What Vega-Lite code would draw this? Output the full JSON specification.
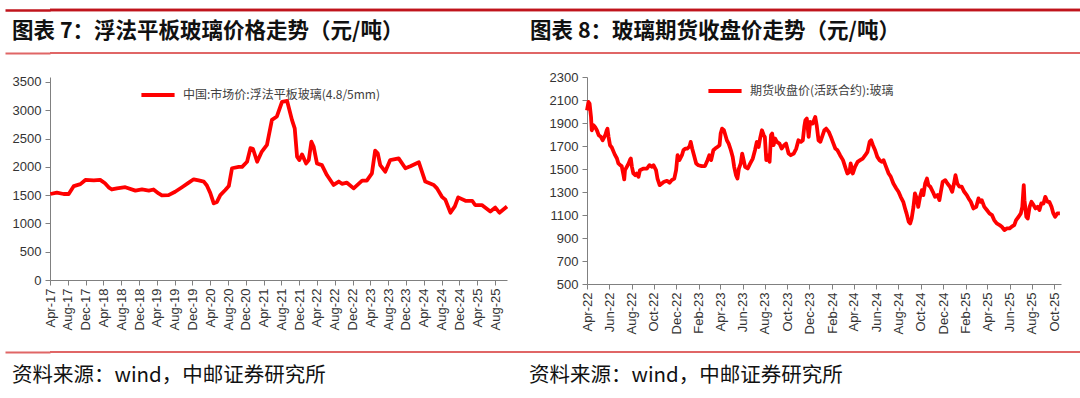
{
  "$schema": "https://vega.github.io/schema/vega-lite/v6.json",
  "background": "white",
  "padding": {"left": 3, "top": 8, "right": 0, "bottom": 0},
  "spacing": 17,
  "config": {
    "view": {"stroke": null},
    "font": "Liberation Sans",
    "axis": {
      "grid": false,
      "domainColor": "#808080",
      "tickColor": "#808080",
      "tickSize": 5,
      "labelColor": "#333333",
      "labelFont": "Liberation Sans",
      "labelFontSize": 13,
      "labelPadding": 3,
      "title": null
    },
    "legend": {
      "labelFont": "Noto Sans CJK SC",
      "labelFontSize": 12,
      "labelColor": "#404040",
      "labelLimit": 400,
      "symbolType": "stroke",
      "symbolStrokeWidth": 4,
      "symbolSize": 1100,
      "labelOffset": 6,
      "padding": 0,
      "orient": "none",
      "direction": "horizontal",
      "title": null
    }
  },
  "resolve": {"scale": {"x": "independent", "y": "independent", "color": "independent"}},
  "vconcat": [
    {
      "width": 1032,
      "height": 43,
      "data": {"values": [
        {"panel": "L", "label": "图表 7：浮法平板玻璃价格走势（元/吨）"},
        {"panel": "R", "label": "图表 8：玻璃期货收盘价走势（元/吨）"}
      ]},
      "layer": [
        {"mark": {"type": "rule", "color": "#C0141C", "strokeWidth": 2.5},
         "encoding": {"y": {"datum": 1, "type": "quantitative", "scale": {"domain": [0, 1]},
           "axis": {"values": [0, 1], "labels": false, "domain": false, "ticks": true, "tickSize": 45,
             "tickColor": {"condition": {"test": "datum.value === 1", "value": "#C0141C"}, "value": "#E06666"},
             "tickWidth": {"condition": {"test": "datum.value === 1", "value": 2.5}, "value": 2},
             "minExtent": 45, "maxExtent": 45}}}},
        {"mark": {"type": "rule", "color": "#E06666", "strokeWidth": 2},
         "encoding": {"y": {"datum": 0, "type": "quantitative"}}},
        {"transform": [{"filter": "datum.panel === 'L'"}],
         "mark": {"type": "text", "align": "left", "baseline": "middle", "dx": -38, "font": "Noto Sans CJK SC", "fontSize": 21.5, "fontWeight": "bold", "color": "#111111"},
         "encoding": {
           "x": {"field": "panel", "type": "nominal", "bandPosition": 0, "scale": {"type": "band", "domain": ["L", "R"], "paddingInner": 0, "paddingOuter": 0}, "axis": null},
           "y": {"datum": 0.5, "type": "quantitative"},
           "text": {"field": "label"}}},
        {"transform": [{"filter": "datum.panel === 'R'"}],
         "mark": {"type": "text", "align": "left", "baseline": "middle", "dx": -36, "font": "Noto Sans CJK SC", "fontSize": 21.5, "fontWeight": "bold", "color": "#111111"},
         "encoding": {
           "x": {"field": "panel", "type": "nominal", "bandPosition": 0},
           "y": {"datum": 0.5, "type": "quantitative"},
           "text": {"field": "label"}}}
      ]
    },
    {
      "spacing": 33,
      "resolve": {"scale": {"x": "independent", "y": "independent", "color": "independent"}},
      "hconcat": [
        {
          "width": 457,
          "height": 203,
          "data": {"values": [
            {"d": "2017/04/03", "v": 1520}, {"d": "2017/05/18", "v": 1543}, {"d": "2017/07/03", "v": 1520}, {"d": "2017/08/07", "v": 1520},
            {"d": "2017/09/11", "v": 1660}, {"d": "2017/10/26", "v": 1695}, {"d": "2017/11/29", "v": 1768}, {"d": "2018/01/26", "v": 1760},
            {"d": "2018/03/10", "v": 1770}, {"d": "2018/04/12", "v": 1709}, {"d": "2018/05/07", "v": 1638}, {"d": "2018/05/29", "v": 1600},
            {"d": "2018/07/03", "v": 1620}, {"d": "2018/08/29", "v": 1640}, {"d": "2018/11/06", "v": 1580}, {"d": "2018/12/21", "v": 1600},
            {"d": "2019/02/06", "v": 1580}, {"d": "2019/03/10", "v": 1600}, {"d": "2019/04/14", "v": 1530}, {"d": "2019/05/06", "v": 1495},
            {"d": "2019/06/21", "v": 1500}, {"d": "2019/08/05", "v": 1560}, {"d": "2019/09/21", "v": 1640}, {"d": "2019/11/06", "v": 1720},
            {"d": "2019/12/10", "v": 1780}, {"d": "2020/01/13", "v": 1760}, {"d": "2020/02/17", "v": 1740}, {"d": "2020/03/09", "v": 1670},
            {"d": "2020/04/01", "v": 1540}, {"d": "2020/04/25", "v": 1355}, {"d": "2020/05/17", "v": 1380}, {"d": "2020/06/09", "v": 1500},
            {"d": "2020/07/13", "v": 1590}, {"d": "2020/08/06", "v": 1660}, {"d": "2020/08/28", "v": 1975}, {"d": "2020/10/13", "v": 2000},
            {"d": "2020/11/05", "v": 2000}, {"d": "2020/12/09", "v": 2090}, {"d": "2021/01/01", "v": 2330}, {"d": "2021/01/18", "v": 2320},
            {"d": "2021/02/16", "v": 2090}, {"d": "2021/03/20", "v": 2270}, {"d": "2021/04/24", "v": 2390}, {"d": "2021/05/28", "v": 2830},
            {"d": "2021/07/01", "v": 2890}, {"d": "2021/08/05", "v": 3150}, {"d": "2021/09/09", "v": 3165}, {"d": "2021/10/12", "v": 2830},
            {"d": "2021/10/31", "v": 2680}, {"d": "2021/11/16", "v": 2180}, {"d": "2021/12/01", "v": 2120}, {"d": "2021/12/20", "v": 2220},
            {"d": "2022/01/17", "v": 2060}, {"d": "2022/02/04", "v": 2120}, {"d": "2022/02/22", "v": 2445}, {"d": "2022/03/09", "v": 2360},
            {"d": "2022/04/01", "v": 2060}, {"d": "2022/05/05", "v": 2030}, {"d": "2022/06/08", "v": 1855}, {"d": "2022/07/24", "v": 1680},
            {"d": "2022/08/28", "v": 1740}, {"d": "2022/09/19", "v": 1700}, {"d": "2022/10/23", "v": 1720}, {"d": "2022/12/08", "v": 1620},
            {"d": "2023/02/04", "v": 1755}, {"d": "2023/03/08", "v": 1755}, {"d": "2023/04/12", "v": 1885}, {"d": "2023/05/04", "v": 2285},
            {"d": "2023/05/22", "v": 2240}, {"d": "2023/06/08", "v": 2030}, {"d": "2023/07/12", "v": 1915}, {"d": "2023/08/15", "v": 2120},
            {"d": "2023/10/12", "v": 2150}, {"d": "2023/11/27", "v": 1975}, {"d": "2023/12/31", "v": 2010}, {"d": "2024/02/27", "v": 2080},
            {"d": "2024/04/11", "v": 1740}, {"d": "2024/06/08", "v": 1680}, {"d": "2024/06/30", "v": 1620}, {"d": "2024/08/03", "v": 1470},
            {"d": "2024/08/26", "v": 1420}, {"d": "2024/09/30", "v": 1190}, {"d": "2024/10/30", "v": 1300}, {"d": "2024/11/22", "v": 1460},
            {"d": "2025/01/11", "v": 1400}, {"d": "2025/02/26", "v": 1400}, {"d": "2025/03/18", "v": 1325}, {"d": "2025/05/03", "v": 1325},
            {"d": "2025/06/30", "v": 1210}, {"d": "2025/08/03", "v": 1280}, {"d": "2025/08/31", "v": 1190}, {"d": "2025/10/22", "v": 1300}
          ]},
          "mark": {"type": "line", "color": "#FF0000", "strokeWidth": 3.8, "strokeJoin": "round"},
          "encoding": {
            "x": {"field": "d", "type": "temporal",
              "scale": {"domain": [{"year": 2017, "month": 4, "date": 1}, {"year": 2025, "month": 10, "date": 22}]},
              "axis": {"format": "%b-%y", "labelAngle": -90, "labelOverlap": false, "labelFlush": false,
                "values": [
                  {"year": 2017, "month": 4, "date": 1}, {"year": 2017, "month": 8, "date": 1}, {"year": 2017, "month": 12, "date": 1},
                  {"year": 2018, "month": 4, "date": 1}, {"year": 2018, "month": 8, "date": 1}, {"year": 2018, "month": 12, "date": 1},
                  {"year": 2019, "month": 4, "date": 1}, {"year": 2019, "month": 8, "date": 1}, {"year": 2019, "month": 12, "date": 1},
                  {"year": 2020, "month": 4, "date": 1}, {"year": 2020, "month": 8, "date": 1}, {"year": 2020, "month": 12, "date": 1},
                  {"year": 2021, "month": 4, "date": 1}, {"year": 2021, "month": 8, "date": 1}, {"year": 2021, "month": 12, "date": 1},
                  {"year": 2022, "month": 4, "date": 1}, {"year": 2022, "month": 8, "date": 1}, {"year": 2022, "month": 12, "date": 1},
                  {"year": 2023, "month": 4, "date": 1}, {"year": 2023, "month": 8, "date": 1}, {"year": 2023, "month": 12, "date": 1},
                  {"year": 2024, "month": 4, "date": 1}, {"year": 2024, "month": 8, "date": 1}, {"year": 2024, "month": 12, "date": 1},
                  {"year": 2025, "month": 4, "date": 1}, {"year": 2025, "month": 8, "date": 1}
                ]}},
            "y": {"field": "v", "type": "quantitative",
              "scale": {"domain": [0, 3588], "nice": false, "zero": false},
              "axis": {"values": [0, 500, 1000, 1500, 2000, 2500, 3000, 3500], "format": "d", "labelPadding": 4, "minExtent": 45, "maxExtent": 45}},
            "color": {"datum": "中国:市场价:浮法平板玻璃(4.8/5mm)", "type": "nominal",
              "scale": {"range": ["#FF0000"]},
              "legend": {"legendX": 89, "legendY": -1}}
          }
        },
        {
          "width": 474,
          "height": 207,
          "data": {"values": [
            {"d": "2022/04/01", "v": 2010}, {"d": "2022/04/05", "v": 2083}, {"d": "2022/04/08", "v": 2069}, {"d": "2022/04/12", "v": 1953},
            {"d": "2022/04/14", "v": 1837}, {"d": "2022/04/19", "v": 1880}, {"d": "2022/04/23", "v": 1866}, {"d": "2022/04/28", "v": 1837},
            {"d": "2022/05/03", "v": 1794}, {"d": "2022/05/09", "v": 1780}, {"d": "2022/05/14", "v": 1750}, {"d": "2022/05/21", "v": 1794},
            {"d": "2022/05/25", "v": 1837}, {"d": "2022/05/27", "v": 1850}, {"d": "2022/05/30", "v": 1780}, {"d": "2022/06/03", "v": 1707},
            {"d": "2022/06/08", "v": 1687}, {"d": "2022/06/13", "v": 1649}, {"d": "2022/06/17", "v": 1620}, {"d": "2022/06/22", "v": 1591},
            {"d": "2022/06/26", "v": 1548}, {"d": "2022/07/01", "v": 1533}, {"d": "2022/07/05", "v": 1525}, {"d": "2022/07/10", "v": 1446},
            {"d": "2022/07/12", "v": 1410}, {"d": "2022/07/14", "v": 1490}, {"d": "2022/07/19", "v": 1519}, {"d": "2022/07/24", "v": 1548},
            {"d": "2022/07/28", "v": 1582}, {"d": "2022/07/30", "v": 1591}, {"d": "2022/08/02", "v": 1519}, {"d": "2022/08/06", "v": 1461},
            {"d": "2022/08/11", "v": 1446}, {"d": "2022/08/15", "v": 1461}, {"d": "2022/08/20", "v": 1432}, {"d": "2022/08/24", "v": 1490},
            {"d": "2022/09/03", "v": 1504}, {"d": "2022/09/12", "v": 1504}, {"d": "2022/09/19", "v": 1533}, {"d": "2022/09/26", "v": 1519},
            {"d": "2022/09/30", "v": 1533}, {"d": "2022/10/07", "v": 1490}, {"d": "2022/10/11", "v": 1417}, {"d": "2022/10/17", "v": 1360},
            {"d": "2022/10/23", "v": 1374}, {"d": "2022/10/29", "v": 1389}, {"d": "2022/11/06", "v": 1397}, {"d": "2022/11/13", "v": 1380},
            {"d": "2022/11/19", "v": 1403}, {"d": "2022/11/26", "v": 1417}, {"d": "2022/12/01", "v": 1490}, {"d": "2022/12/05", "v": 1620},
            {"d": "2022/12/10", "v": 1577}, {"d": "2022/12/17", "v": 1620}, {"d": "2022/12/21", "v": 1663}, {"d": "2022/12/26", "v": 1678},
            {"d": "2023/01/01", "v": 1678}, {"d": "2023/01/07", "v": 1698}, {"d": "2023/01/10", "v": 1736}, {"d": "2023/01/14", "v": 1678},
            {"d": "2023/01/19", "v": 1620}, {"d": "2023/01/25", "v": 1548}, {"d": "2023/01/31", "v": 1533}, {"d": "2023/02/09", "v": 1525},
            {"d": "2023/02/18", "v": 1525}, {"d": "2023/02/25", "v": 1577}, {"d": "2023/03/02", "v": 1620}, {"d": "2023/03/07", "v": 1577},
            {"d": "2023/03/13", "v": 1663}, {"d": "2023/03/18", "v": 1678}, {"d": "2023/03/24", "v": 1692}, {"d": "2023/03/30", "v": 1707},
            {"d": "2023/04/02", "v": 1808}, {"d": "2023/04/06", "v": 1851}, {"d": "2023/04/11", "v": 1837}, {"d": "2023/04/15", "v": 1794},
            {"d": "2023/04/19", "v": 1750}, {"d": "2023/04/24", "v": 1721}, {"d": "2023/04/30", "v": 1663}, {"d": "2023/05/05", "v": 1605},
            {"d": "2023/05/09", "v": 1519}, {"d": "2023/05/14", "v": 1446}, {"d": "2023/05/18", "v": 1417}, {"d": "2023/05/22", "v": 1504},
            {"d": "2023/05/27", "v": 1548}, {"d": "2023/05/31", "v": 1634}, {"d": "2023/06/04", "v": 1577}, {"d": "2023/06/08", "v": 1519},
            {"d": "2023/06/15", "v": 1504}, {"d": "2023/06/22", "v": 1548}, {"d": "2023/06/29", "v": 1591}, {"d": "2023/07/05", "v": 1663},
            {"d": "2023/07/10", "v": 1736}, {"d": "2023/07/15", "v": 1692}, {"d": "2023/07/19", "v": 1765}, {"d": "2023/07/24", "v": 1837},
            {"d": "2023/07/29", "v": 1794}, {"d": "2023/08/01", "v": 1779}, {"d": "2023/08/05", "v": 1577}, {"d": "2023/08/09", "v": 1620},
            {"d": "2023/08/14", "v": 1562}, {"d": "2023/08/18", "v": 1794}, {"d": "2023/08/21", "v": 1808}, {"d": "2023/08/25", "v": 1707},
            {"d": "2023/08/29", "v": 1765}, {"d": "2023/09/03", "v": 1736}, {"d": "2023/09/10", "v": 1721}, {"d": "2023/09/16", "v": 1678},
            {"d": "2023/09/23", "v": 1707}, {"d": "2023/09/28", "v": 1721}, {"d": "2023/10/05", "v": 1634}, {"d": "2023/10/11", "v": 1620},
            {"d": "2023/10/19", "v": 1634}, {"d": "2023/10/26", "v": 1678}, {"d": "2023/11/01", "v": 1750}, {"d": "2023/11/08", "v": 1736},
            {"d": "2023/11/13", "v": 1750}, {"d": "2023/11/17", "v": 1866}, {"d": "2023/11/20", "v": 1924}, {"d": "2023/11/24", "v": 1938},
            {"d": "2023/11/29", "v": 1779}, {"d": "2023/12/03", "v": 1909}, {"d": "2023/12/10", "v": 1895}, {"d": "2023/12/17", "v": 1953},
            {"d": "2023/12/21", "v": 1880}, {"d": "2023/12/26", "v": 1750}, {"d": "2023/12/31", "v": 1736}, {"d": "2024/01/11", "v": 1837},
            {"d": "2024/01/16", "v": 1851}, {"d": "2024/01/23", "v": 1823}, {"d": "2024/01/29", "v": 1779}, {"d": "2024/02/03", "v": 1736},
            {"d": "2024/02/10", "v": 1678}, {"d": "2024/02/16", "v": 1663}, {"d": "2024/02/23", "v": 1620}, {"d": "2024/03/02", "v": 1577},
            {"d": "2024/03/08", "v": 1519}, {"d": "2024/03/14", "v": 1461}, {"d": "2024/03/20", "v": 1475}, {"d": "2024/03/23", "v": 1548},
            {"d": "2024/03/29", "v": 1461}, {"d": "2024/04/04", "v": 1519}, {"d": "2024/04/11", "v": 1562}, {"d": "2024/04/18", "v": 1577},
            {"d": "2024/04/25", "v": 1591}, {"d": "2024/05/02", "v": 1620}, {"d": "2024/05/08", "v": 1649}, {"d": "2024/05/14", "v": 1736},
            {"d": "2024/05/18", "v": 1750}, {"d": "2024/05/23", "v": 1707}, {"d": "2024/05/29", "v": 1663}, {"d": "2024/06/04", "v": 1605},
            {"d": "2024/06/10", "v": 1577}, {"d": "2024/06/16", "v": 1562}, {"d": "2024/06/21", "v": 1577}, {"d": "2024/06/28", "v": 1519},
            {"d": "2024/07/05", "v": 1461}, {"d": "2024/07/11", "v": 1432}, {"d": "2024/07/18", "v": 1374}, {"d": "2024/07/26", "v": 1331},
            {"d": "2024/08/01", "v": 1302}, {"d": "2024/08/07", "v": 1258}, {"d": "2024/08/14", "v": 1215}, {"d": "2024/08/19", "v": 1157},
            {"d": "2024/08/23", "v": 1114}, {"d": "2024/08/29", "v": 1041}, {"d": "2024/09/02", "v": 1027}, {"d": "2024/09/06", "v": 1070},
            {"d": "2024/09/11", "v": 1171}, {"d": "2024/09/15", "v": 1287}, {"d": "2024/09/20", "v": 1244}, {"d": "2024/09/24", "v": 1171},
            {"d": "2024/09/29", "v": 1258}, {"d": "2024/10/04", "v": 1316}, {"d": "2024/10/08", "v": 1273}, {"d": "2024/10/13", "v": 1374},
            {"d": "2024/10/18", "v": 1417}, {"d": "2024/10/22", "v": 1360}, {"d": "2024/10/27", "v": 1346}, {"d": "2024/11/03", "v": 1302},
            {"d": "2024/11/09", "v": 1258}, {"d": "2024/11/16", "v": 1273}, {"d": "2024/11/21", "v": 1229}, {"d": "2024/11/25", "v": 1302},
            {"d": "2024/11/30", "v": 1389}, {"d": "2024/12/07", "v": 1403}, {"d": "2024/12/13", "v": 1374}, {"d": "2024/12/20", "v": 1346},
            {"d": "2024/12/26", "v": 1302}, {"d": "2024/12/31", "v": 1374}, {"d": "2025/01/04", "v": 1446}, {"d": "2025/01/09", "v": 1374},
            {"d": "2025/01/15", "v": 1346}, {"d": "2025/01/21", "v": 1346}, {"d": "2025/01/28", "v": 1302}, {"d": "2025/02/04", "v": 1273},
            {"d": "2025/02/09", "v": 1244}, {"d": "2025/02/15", "v": 1215}, {"d": "2025/02/22", "v": 1157}, {"d": "2025/03/02", "v": 1171},
            {"d": "2025/03/08", "v": 1244}, {"d": "2025/03/13", "v": 1215}, {"d": "2025/03/17", "v": 1229}, {"d": "2025/03/24", "v": 1171},
            {"d": "2025/03/31", "v": 1143}, {"d": "2025/04/07", "v": 1114}, {"d": "2025/04/14", "v": 1099}, {"d": "2025/04/20", "v": 1056},
            {"d": "2025/04/27", "v": 1027}, {"d": "2025/05/05", "v": 1012}, {"d": "2025/05/11", "v": 998}, {"d": "2025/05/18", "v": 969},
            {"d": "2025/05/25", "v": 983}, {"d": "2025/06/01", "v": 983}, {"d": "2025/06/07", "v": 998}, {"d": "2025/06/14", "v": 1012},
            {"d": "2025/06/19", "v": 1056}, {"d": "2025/06/26", "v": 1085}, {"d": "2025/07/02", "v": 1114}, {"d": "2025/07/06", "v": 1171},
            {"d": "2025/07/10", "v": 1360}, {"d": "2025/07/12", "v": 1229}, {"d": "2025/07/17", "v": 1085}, {"d": "2025/07/21", "v": 1070},
            {"d": "2025/07/26", "v": 1171}, {"d": "2025/07/31", "v": 1215}, {"d": "2025/08/06", "v": 1186}, {"d": "2025/08/11", "v": 1157},
            {"d": "2025/08/17", "v": 1171}, {"d": "2025/08/22", "v": 1143}, {"d": "2025/08/27", "v": 1200}, {"d": "2025/09/02", "v": 1200},
            {"d": "2025/09/07", "v": 1258}, {"d": "2025/09/13", "v": 1215}, {"d": "2025/09/18", "v": 1215}, {"d": "2025/09/24", "v": 1171},
            {"d": "2025/09/29", "v": 1114}, {"d": "2025/10/04", "v": 1085}, {"d": "2025/10/10", "v": 1114}, {"d": "2025/10/17", "v": 1114}
          ]},
          "mark": {"type": "line", "color": "#FF0000", "strokeWidth": 3.8, "strokeJoin": "round"},
          "encoding": {
            "x": {"field": "d", "type": "temporal",
              "scale": {"domain": [{"year": 2022, "month": 4, "date": 1}, {"year": 2025, "month": 10, "date": 20}]},
              "axis": {"format": "%b-%y", "labelAngle": -90, "labelOverlap": false, "labelFlush": false,
                "values": [
                  {"year": 2022, "month": 4, "date": 1}, {"year": 2022, "month": 6, "date": 1}, {"year": 2022, "month": 8, "date": 1},
                  {"year": 2022, "month": 10, "date": 1}, {"year": 2022, "month": 12, "date": 1}, {"year": 2023, "month": 2, "date": 1},
                  {"year": 2023, "month": 4, "date": 1}, {"year": 2023, "month": 6, "date": 1}, {"year": 2023, "month": 8, "date": 1},
                  {"year": 2023, "month": 10, "date": 1}, {"year": 2023, "month": 12, "date": 1}, {"year": 2024, "month": 2, "date": 1},
                  {"year": 2024, "month": 4, "date": 1}, {"year": 2024, "month": 6, "date": 1}, {"year": 2024, "month": 8, "date": 1},
                  {"year": 2024, "month": 10, "date": 1}, {"year": 2024, "month": 12, "date": 1}, {"year": 2025, "month": 2, "date": 1},
                  {"year": 2025, "month": 4, "date": 1}, {"year": 2025, "month": 6, "date": 1}, {"year": 2025, "month": 8, "date": 1},
                  {"year": 2025, "month": 10, "date": 1}
                ]}},
            "y": {"field": "v", "type": "quantitative",
              "scale": {"domain": [500, 2300], "nice": false, "zero": false},
              "axis": {"values": [500, 700, 900, 1100, 1300, 1500, 1700, 1900, 2100, 2300], "format": "d", "labelPadding": 4, "minExtent": 45, "maxExtent": 45}},
            "color": {"datum": "期货收盘价(活跃合约):玻璃", "type": "nominal",
              "scale": {"range": ["#FF0000"]},
              "legend": {"legendX": 119, "legendY": -5}}
          }
        }
      ]
    },
    {
      "width": 1032,
      "height": 40,
      "data": {"values": [
        {"panel": "L", "src": "资料来源：wind，中邮证券研究所"},
        {"panel": "R", "src": "资料来源：wind，中邮证券研究所"}
      ]},
      "layer": [
        {"mark": {"type": "rule", "color": "#E06666", "strokeWidth": 2},
         "encoding": {"y": {"datum": 1, "type": "quantitative", "scale": {"domain": [0, 1]},
           "axis": {"values": [1], "labels": false, "domain": false, "ticks": true, "tickSize": 45, "tickColor": "#E06666", "tickWidth": 2, "minExtent": 45, "maxExtent": 45}}}},
        {"transform": [{"filter": "datum.panel === 'L'"}],
         "mark": {"type": "text", "align": "left", "baseline": "middle", "dx": -38, "font": "Noto Sans CJK SC", "fontSize": 20.5, "color": "#111111"},
         "encoding": {
           "x": {"field": "panel", "type": "nominal", "bandPosition": 0, "scale": {"type": "band", "domain": ["L", "R"], "paddingInner": 0, "paddingOuter": 0}, "axis": null},
           "y": {"datum": 0.4, "type": "quantitative"},
           "text": {"field": "src"}}},
        {"transform": [{"filter": "datum.panel === 'R'"}],
         "mark": {"type": "text", "align": "left", "baseline": "middle", "dx": -37, "font": "Noto Sans CJK SC", "fontSize": 20.5, "color": "#111111"},
         "encoding": {
           "x": {"field": "panel", "type": "nominal", "bandPosition": 0},
           "y": {"datum": 0.4, "type": "quantitative"},
           "text": {"field": "src"}}}
      ]
    }
  ]
}
